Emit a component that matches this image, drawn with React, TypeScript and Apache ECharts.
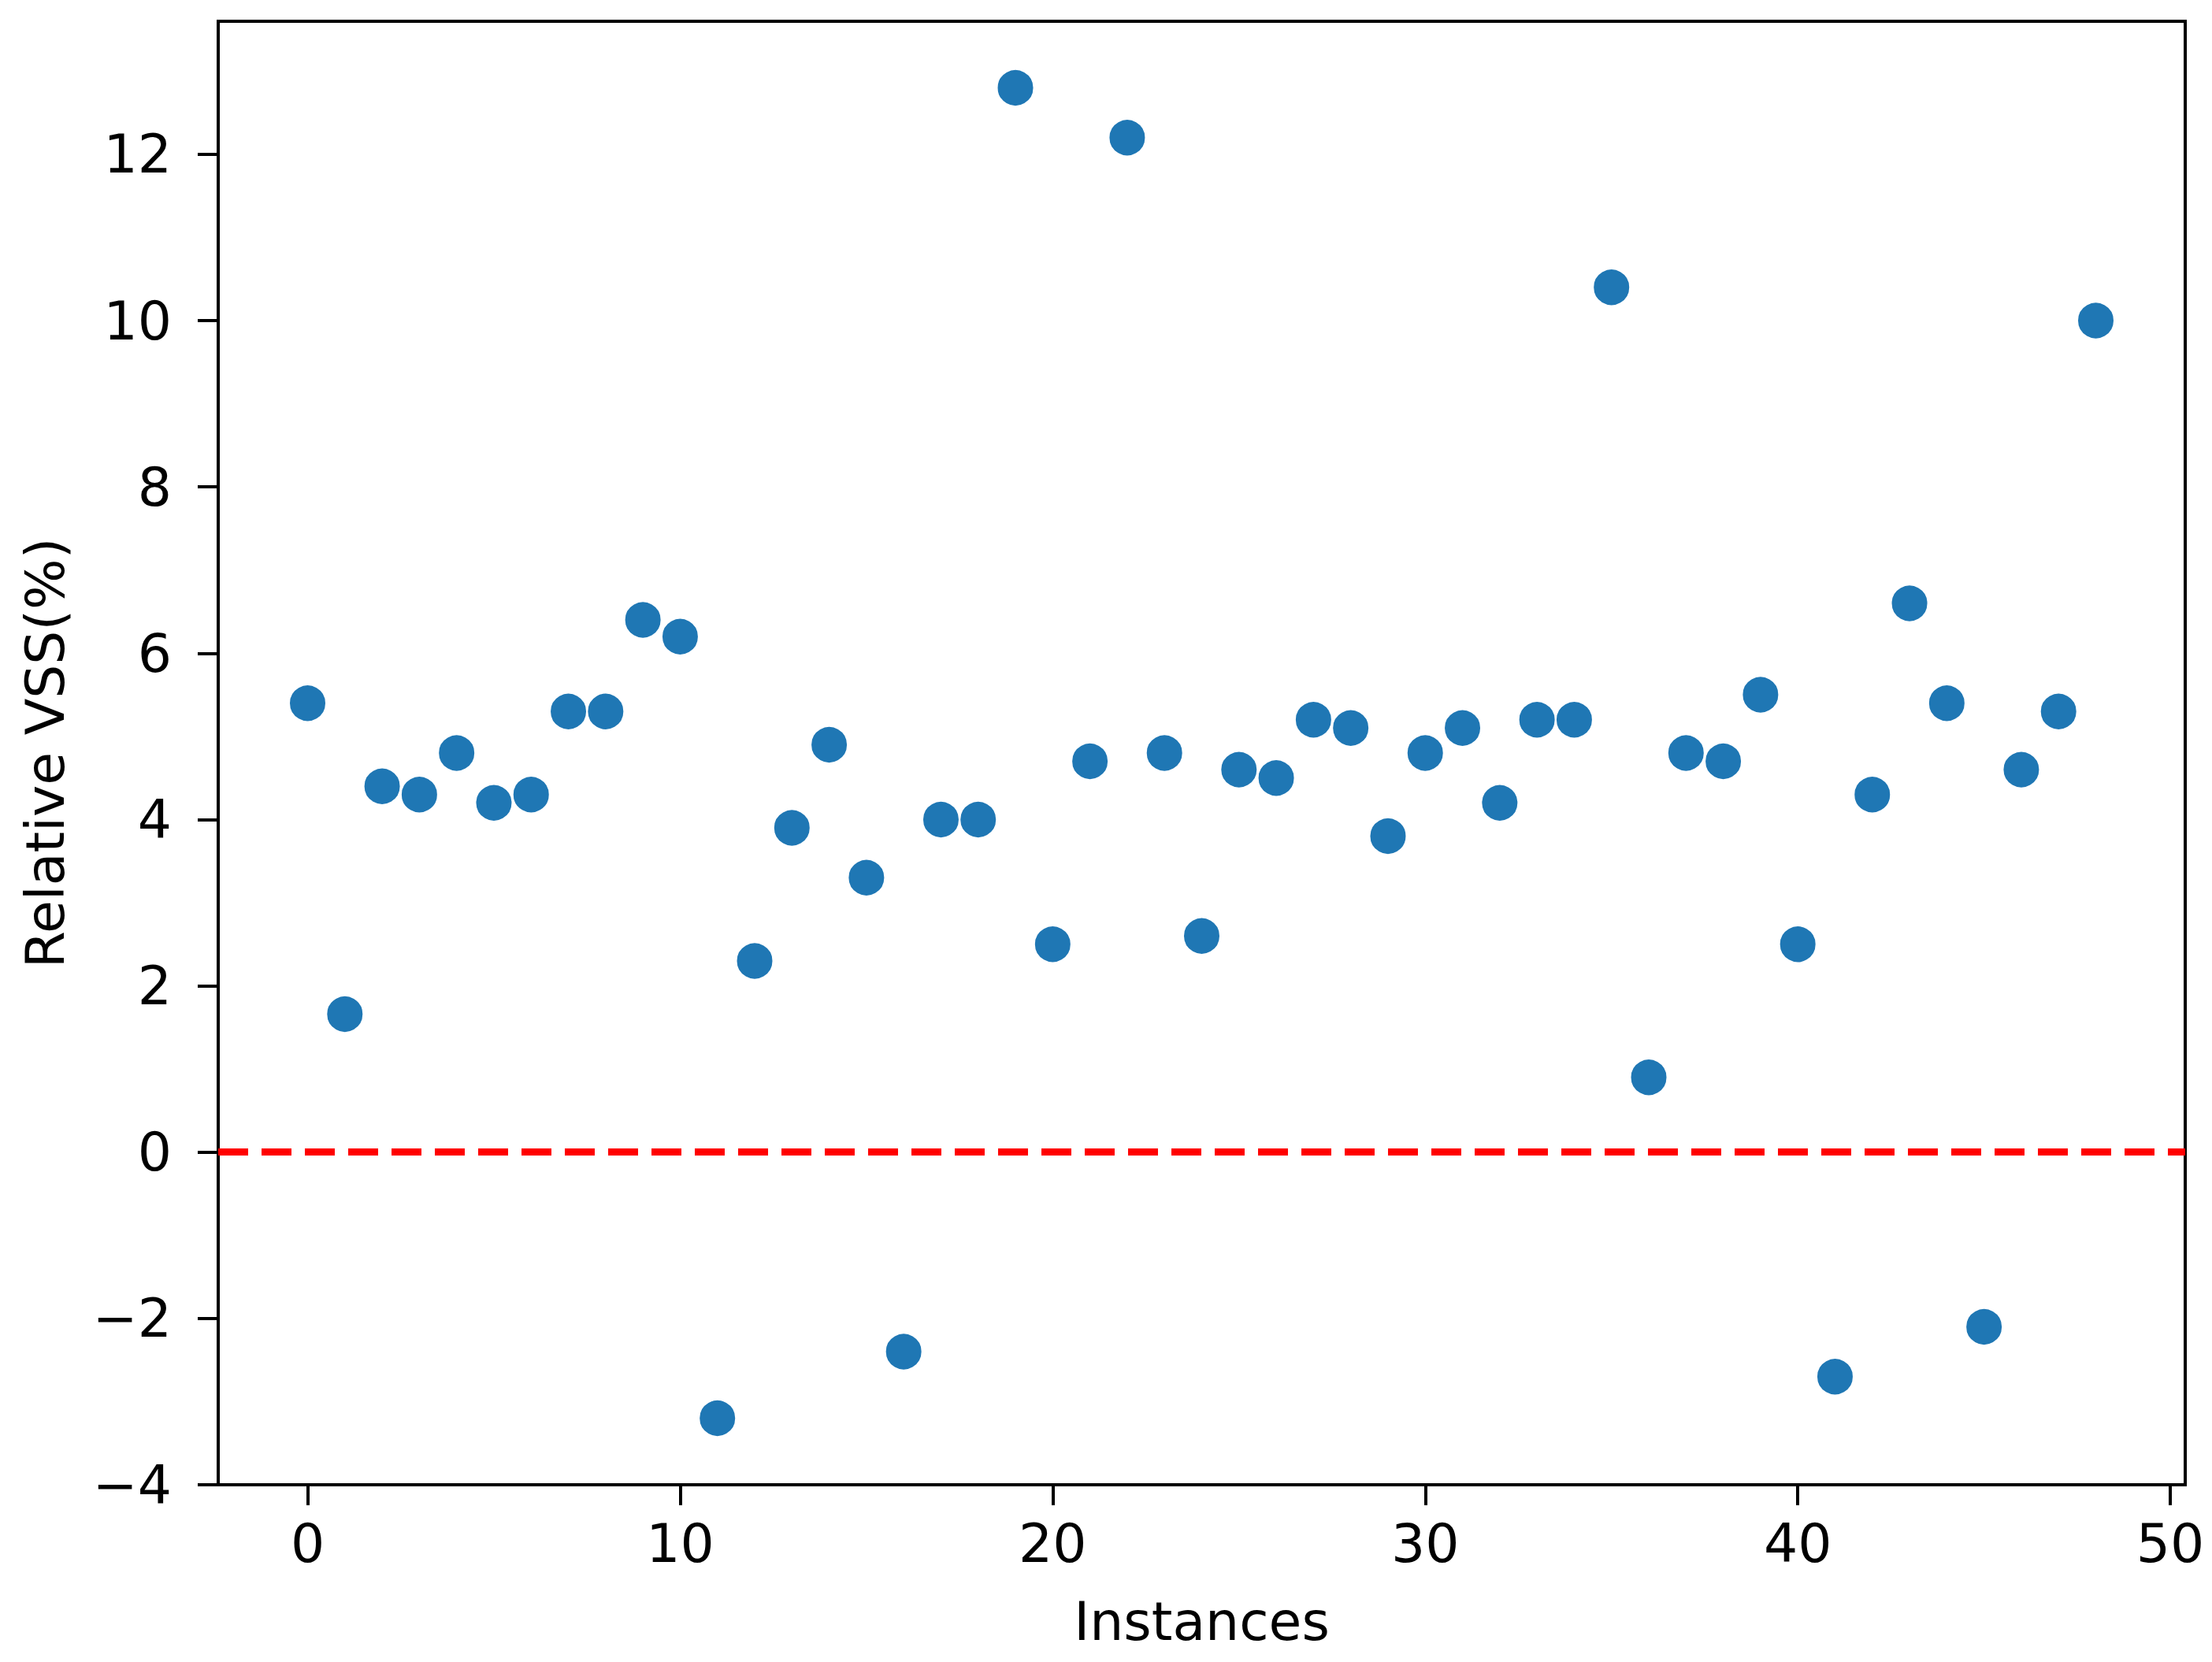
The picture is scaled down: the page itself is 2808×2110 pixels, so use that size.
import React, { useEffect, useRef } from "react";
import * as echarts from "echarts";

const instances: number[] = [
  0, 1, 2, 3, 4, 5, 6, 7, 8, 9, 10, 11, 12, 13, 14, 15, 16, 17, 18, 19, 20, 21, 22, 23, 24,
  25, 26, 27, 28, 29, 30, 31, 32, 33, 34, 35, 36, 37, 38, 39, 40, 41, 42, 43, 44, 45, 46, 47, 48,
];
const relativeVSS: number[] = [
  5.4, 1.66, 4.4, 4.3, 4.8, 4.2, 4.3, 5.3, 5.3, 6.4, 6.2, -3.2, 2.3, 3.9, 4.9, 3.3, -2.4, 4.0, 4.0,
  12.8, 2.5, 4.7, 12.2, 4.8, 2.6, 4.6, 4.5, 5.2, 5.1, 3.8, 4.8, 5.1, 4.2, 5.2, 5.2, 10.4, 0.9, 4.8,
  4.7, 5.5, 2.5, -2.7, 4.3, 6.6, 5.4, -2.1, 4.6, 5.3, 10.0,
];
const xTicks: number[] = [0, 10, 20, 30, 40, 50];
const yTicks: number[] = [-4, -2, 0, 2, 4, 6, 8, 10, 12];
const referenceLevel = 0;

const FONT = "DejaVu Sans";
const FS = 68;
const fmt = (v: number) => (v < 0 ? "\u2212" + Math.abs(v) : String(v));

export default function App() {
  const ref = useRef<HTMLDivElement>(null);
  useEffect(() => {
    if (!ref.current) return;
    const chart = echarts.init(ref.current, undefined, { renderer: "svg" });
    const axisCommon = {
      type: "value" as const,
      splitLine: { show: false },
      axisLine: { show: true, onZero: false, lineStyle: { color: "#000", width: 4 } },
      axisTick: { show: true, length: 26, lineStyle: { color: "#000", width: 4 } },
      nameTextStyle: { fontFamily: FONT, fontSize: FS, color: "#000" },
    };
    chart.setOption({
      animation: false,
      backgroundColor: "#fff",
      grid: {
        left: 277,
        right: 34,
        top: 27,
        bottom: 225,
        show: true,
        borderColor: "#000",
        borderWidth: 4,
        backgroundColor: "transparent",
      },
      xAxis: {
        ...axisCommon,
        min: -2.4,
        max: 50.4,
        name: "Instances",
        nameLocation: "middle",
        nameGap: 139,
        axisTick: { ...axisCommon.axisTick, customValues: xTicks },
        axisLabel: {
          customValues: xTicks,
          formatter: fmt,
          fontFamily: FONT,
          fontSize: FS,
          color: "#000",
          margin: 40,
        },
      },
      yAxis: {
        ...axisCommon,
        min: -4,
        max: 13.6,
        name: "Relative VSS(%)",
        nameLocation: "middle",
        nameGap: 186,
        axisTick: { ...axisCommon.axisTick, customValues: yTicks },
        axisLabel: {
          customValues: yTicks,
          formatter: fmt,
          fontFamily: FONT,
          fontSize: FS,
          color: "#000",
          margin: 59,
        },
      },
      series: [
        {
          type: "scatter",
          data: instances.map((x, i) => [x, relativeVSS[i]]),
          symbol: "circle",
          symbolSize: 47,
          itemStyle: { color: "#1f77b4", borderColor: "#ffffff", borderWidth: 2, opacity: 1 },
          markLine: {
            silent: true,
            symbol: ["none", "none"],
            label: { show: false },
            lineStyle: { color: "#ff0000", width: 9, type: [38, 17] },
            data: [{ yAxis: referenceLevel }],
          },
        },
      ],
    });
    return () => chart.dispose();
  }, []);
  return (
    <div
      ref={ref}
      style={{ position: "absolute", left: 0, top: 0, width: 2808, height: 2110 }}
    />
  );
}
